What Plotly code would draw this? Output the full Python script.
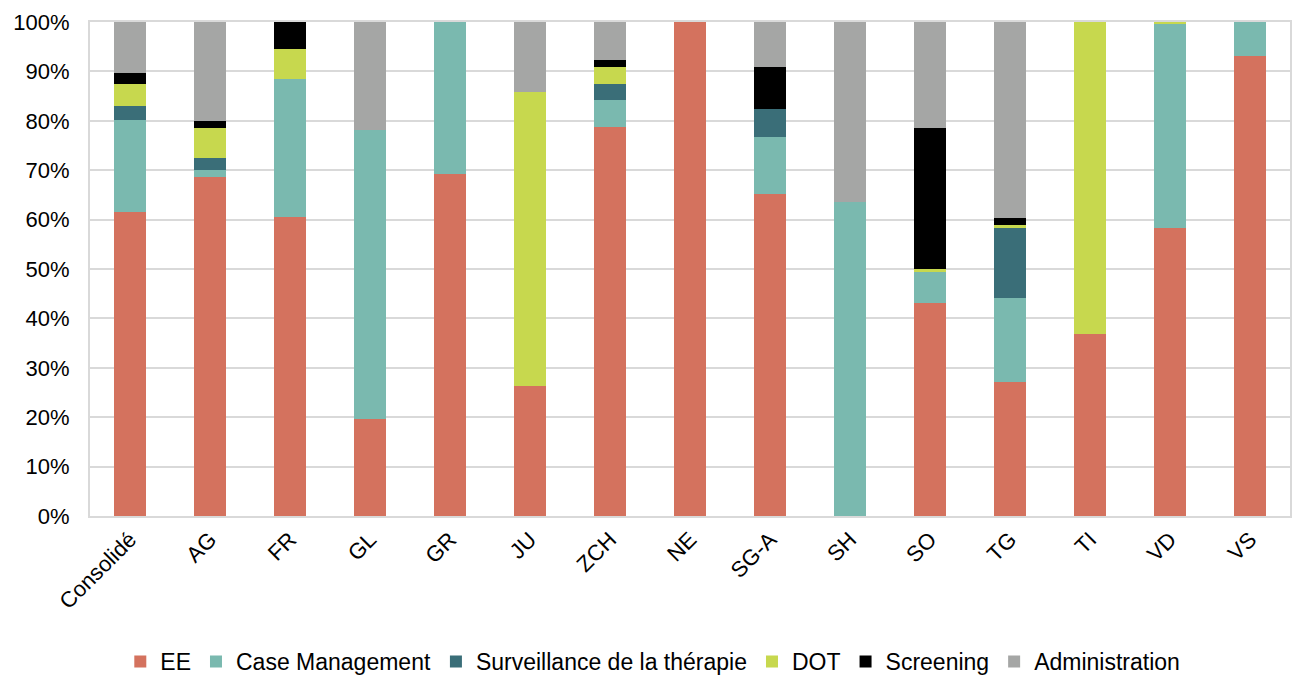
import plotly.graph_objects as go

categories = ["Consolidé", "AG", "FR", "GL", "GR", "JU", "ZCH", "NE",
              "SG-A", "SH", "SO", "TG", "TI", "VD", "VS"]

# Share of costs per activity (percent of each canton's total)
ee = [61.5, 68.6, 60.5, 19.6, 69.2, 26.3, 78.8, 100.0, 65.2, 0.0, 43.2, 27.1, 36.8, 58.2, 93.2]
case_management = [18.7, 1.4, 27.9, 58.5, 30.8, 0.0, 5.4, 0.0, 11.5, 63.6, 6.1, 17.1, 0.0, 41.4, 6.8]
surveillance = [2.8, 2.5, 0.0, 0.0, 0.0, 0.0, 3.3, 0.0, 5.6, 0.0, 0.0, 14.2, 0.0, 0.0, 0.0]
dot = [4.5, 6.1, 6.1, 0.0, 0.0, 59.5, 3.3, 0.0, 0.0, 0.0, 0.8, 0.6, 63.2, 0.4, 0.0]
screening = [2.1, 1.3, 5.5, 0.0, 0.0, 0.0, 1.5, 0.0, 8.5, 0.0, 28.4, 1.4, 0.0, 0.0, 0.0]
administration = [10.4, 20.1, 0.0, 21.9, 0.0, 14.2, 7.7, 0.0, 9.2, 36.4, 21.5, 39.6, 0.0, 0.0, 0.0]

series = [
    ("EE", ee, "#D4725E"),
    ("Case Management", case_management, "#7AB9AF"),
    ("Surveillance de la thérapie", surveillance, "#3A6E78"),
    ("DOT", dot, "#C7D84E"),
    ("Screening", screening, "#000000"),
    ("Administration", administration, "#A5A6A5"),
]

FONT = "Liberation Sans, Arial, sans-serif"

fig = go.Figure()
for name, vals, color in series:
    fig.add_trace(go.Bar(
        x=categories, y=[v / 100 for v in vals], name=name,
        marker=dict(color=color, line=dict(width=0)),
    ))

fig.update_layout(
    barmode="stack",
    bargap=0.6,
    width=1293, height=675,
    margin=dict(l=90, r=3, t=22, b=159, autoexpand=False),
    paper_bgcolor="white", plot_bgcolor="white",
    font=dict(family=FONT, size=22, color="#000000"),
    showlegend=True,
    legend=dict(orientation="h", x=0.469, xanchor="center", y=-0.251, yanchor="top",
                font=dict(family=FONT, size=23), traceorder="normal",
                itemwidth=30, tracegroupgap=0),
    yaxis=dict(range=[0, 1], tickformat=".0%", dtick=0.1,
               showgrid=True, gridcolor="#D9D9D9", gridwidth=2,
               showline=True, linecolor="#D9D9D9", linewidth=2, mirror=True,
               zeroline=False, ticks="", ticklen=0, automargin=False,
               ticklabelstandoff=14,
               tickfont=dict(family=FONT, size=22)),
    xaxis=dict(tickangle=-45, showline=True, linecolor="#D9D9D9", linewidth=2, mirror=True,
               showgrid=False, ticks="", automargin=False,
               tickfont=dict(family=FONT, size=22)),
)

fig.write_html("out.html")
